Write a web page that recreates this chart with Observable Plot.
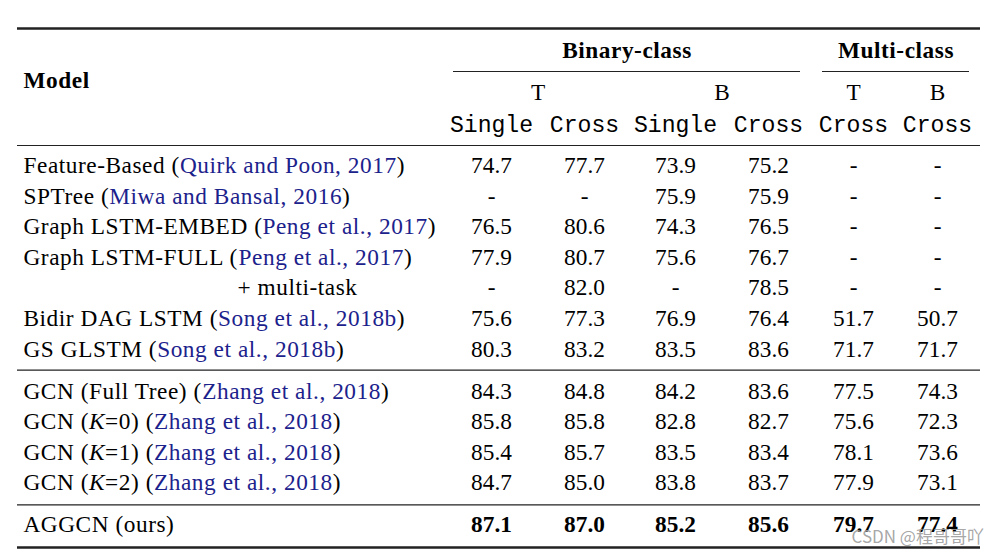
<!DOCTYPE html>
<html><head><meta charset="utf-8">
<script src="https://cdn.jsdelivr.net/npm/d3@7"></script>
<script src="https://cdn.jsdelivr.net/npm/@observablehq/plot@0.6"></script>
<style>html,body{margin:0;padding:0;background:#fff;} #chart svg{display:block}</style>
</head><body><div id="chart"></div>
<script>
// ---------- DATA ----------
const modelNames = ["Feature-Based", "SPTree", "Graph LSTM-EMBED", "Graph LSTM-FULL", "+ multi-task",
  "Bidir DAG LSTM", "GS GLSTM", "GCN (Full Tree)", "GCN (K=0)", "GCN (K=1)", "GCN (K=2)", "AGGCN (ours)"];
const citations = ["Quirk and Poon, 2017", "Miwa and Bansal, 2016", "Peng et al., 2017", "Peng et al., 2017", "",
  "Song et al., 2018b", "Song et al., 2018b", "Zhang et al., 2018", "Zhang et al., 2018", "Zhang et al., 2018",
  "Zhang et al., 2018", ""];
const rowSection = [0, 0, 0, 0, 0, 0, 0, 1, 1, 1, 1, 2];
const groupLabels = ["Binary-class", "Multi-class"];
const subLabels = ["T", "B", "T", "B"];
const settingLabels = ["Single", "Cross", "Single", "Cross", "Cross", "Cross"];
const binaryTSingle = [74.7, null, 76.5, 77.9, null, 75.6, 80.3, 84.3, 85.8, 85.4, 84.7, 87.1];
const binaryTCross  = [77.7, null, 80.6, 80.7, 82.0, 77.3, 83.2, 84.8, 85.8, 85.7, 85.0, 87.0];
const binaryBSingle = [73.9, 75.9, 74.3, 75.6, null, 76.9, 83.5, 84.2, 82.8, 83.5, 83.8, 85.2];
const binaryBCross  = [75.2, 75.9, 76.5, 76.7, 78.5, 76.4, 83.6, 83.6, 82.7, 83.4, 83.7, 85.6];
const multiTCross   = [null, null, null, null, null, 51.7, 71.7, 77.5, 75.6, 78.1, 77.9, 79.7];
const multiBCross   = [null, null, null, null, null, 50.7, 71.7, 74.3, 72.3, 73.6, 73.1, 77.4];
const bestRow = 11;
const watermark = "CSDN @程哥哥吖";

// ---------- LAYOUT ----------
const W = 1002, H = 555;
const FS = 23.3, LS = 0.55;
const SERIF = "Liberation Serif, Times New Roman, serif", MONO = "Liberation Mono, Courier New, monospace";
const LEFT = 23, INDENT = 237;
const colX = [491, 584, 675, 768, 853, 937];
const ROW0 = 165, ROWSTEP = 30.6, SECGAP = 11.4;
const rowY = i => ROW0 + ROWSTEP * i + SECGAP * rowSection[i];
const CITE = "#1c228c";

// measure text widths (with letter spacing)
const ctx = document.createElement("canvas").getContext("2d");
function measure(t, italic) {
  ctx.font = `${italic ? "italic " : ""}${FS}px "Liberation Serif"`;
  return ctx.measureText(t).width + t.length * LS;
}

// build label segments
const segments = [];
modelNames.forEach((name, i) => {
  const segs = [];
  name.split(/(K)(?==)/).filter(s => s !== "").forEach(s => segs.push({t: s, italic: s === "K", blue: false}));
  if (citations[i]) {
    segs[segs.length - 1].t += " (";
    segs.push({t: citations[i], italic: false, blue: true});
    segs.push({t: ")", italic: false, blue: false});
  }
  let x = name.startsWith("+") ? INDENT : LEFT;
  segs.forEach(s => {
    const lead = s.t.match(/^\s*/)[0];
    segments.push({text: s.t.trim(), x: x + (lead ? measure(lead, s.italic) : 0), y: rowY(i), italic: s.italic, fill: s.blue ? CITE : "black"});
    x += measure(s.t, s.italic);
  });
});

// value cells
const columns = [binaryTSingle, binaryTCross, binaryBSingle, binaryBCross, multiTCross, multiBCross];
const cells = [];
columns.forEach((col, c) => col.forEach((v, i) => cells.push({
  text: v == null ? "-" : v.toFixed(1), x: colX[c], y: rowY(i), bold: i === bestRow
})));

// header
const groupCells = [
  {text: groupLabels[0], x: (453 + 800) / 2},
  {text: groupLabels[1], x: (822 + 969) / 2}
];
const subCells = subLabels.map((t, k) => ({text: t, x: k < 2 ? (colX[2 * k] + colX[2 * k + 1]) / 2 : colX[k + 2]}));
const settingCells = settingLabels.map((t, k) => ({text: t, x: colX[k]}));

const rules = [
  {y: 28, x1: 17, x2: 980, w: 2.4},
  {y: 145, x1: 17, x2: 980, w: 1.2},
  {y: rowY(6) + 21, x1: 17, x2: 980, w: 1.2},
  {y: rowY(10) + 22, x1: 17, x2: 980, w: 1.2},
  {y: 547, x1: 17, x2: 980, w: 2.4},
  {y: 71, x1: 453, x2: 800, w: 1},
  {y: 71, x1: 822, x2: 969, w: 1}
];

const common = {fontFamily: SERIF, fontSize: FS, lineAnchor: "middle"};
// text marks, in order; the flag says whether the mark uses letter spacing
const textMarks = [
  [true,  Plot.text(["Model"], {...common, x: () => LEFT, y: () => 80, text: d => d, textAnchor: "start", fontWeight: "bold"})],
  [true,  Plot.text(groupCells, {...common, x: "x", y: () => 50, text: "text", fontWeight: "bold"})],
  [false, Plot.text(subCells, {...common, x: "x", y: () => 92, text: "text"})],
  [false, Plot.text(settingCells, {...common, fontFamily: MONO, fontSize: 23.1, x: "x", y: () => 124, text: "text"})],
  [true,  Plot.text(segments.filter(d => !d.italic), {...common, x: "x", y: "y", text: "text", fill: "fill", textAnchor: "start"})],
  [true,  Plot.text(segments.filter(d => d.italic), {...common, x: "x", y: "y", text: "text", fill: "fill", textAnchor: "start", fontStyle: "italic"})],
  [false, Plot.text(cells.filter(d => !d.bold), {...common, x: "x", y: "y", text: "text"})],
  [false, Plot.text(cells.filter(d => d.bold), {...common, x: "x", y: "y", text: "text", fontWeight: "bold"})],
  [false, Plot.text([watermark], {x: () => 851, y: () => 542, text: d => d, textAnchor: "start", lineAnchor: "bottom",
      fontFamily: "Noto Sans CJK SC", fontSize: 17, fill: "#9c9c9c", fillOpacity: 0.9})]
];
const chart = Plot.plot({
  width: W, height: H, margin: 0,
  x: {type: "identity", axis: null},
  y: {type: "identity", axis: null},
  style: {background: "white", fontFamily: SERIF},
  marks: [
    Plot.ruleY(rules, {y: "y", x1: "x1", x2: "x2", strokeWidth: "w", stroke: "#222"}),
    ...textMarks.map(d => d[1])
  ]
});
const groups = chart.querySelectorAll('g[aria-label="text"]');
textMarks.forEach((d, k) => { if (d[0] && groups[k]) groups[k].style.letterSpacing = LS + "px"; });
document.getElementById("chart").appendChild(chart);
</script>
</body></html>
